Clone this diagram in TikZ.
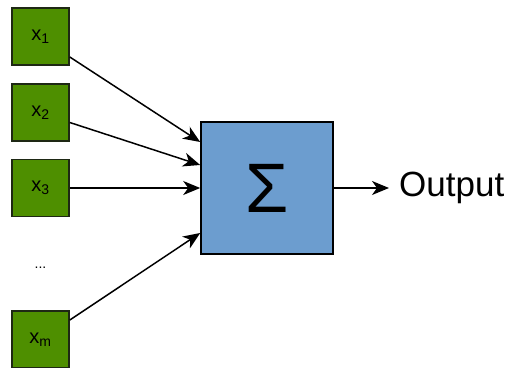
\documentclass[tikz,border=0pt]{standalone}
\usepackage{fontspec}
\setmainfont{Liberation Sans}
\usetikzlibrary{arrows.meta,calc}
\definecolor{ingreen}{RGB}{78,143,0}
\definecolor{inborder}{RGB}{30,40,20}
\definecolor{sumblue}{RGB}{108,157,207}
\tikzset{
  inbox/.style={draw=inborder,line width=1.6pt,fill=ingreen,minimum width=57pt,minimum height=57pt,inner sep=0pt,font=\fontsize{20}{22}\selectfont},
  sumbox/.style={draw=black,line width=1.6pt,fill=sumblue,minimum width=132pt,minimum height=132pt,inner sep=0pt},
  conn/.style={line width=1.5pt,-{Stealth[length=17pt,width=14pt,inset=5pt]}}
}
\begin{document}
\begin{tikzpicture}[x=1pt,y=-1pt]
\useasboundingbox (0,0) rectangle (505,367);
\node[inbox] (g1) at (40.5,36.5) {x\textsubscript{1}};
\node[inbox] (g2) at (40.5,112.5) {x\textsubscript{2}};
\node[inbox] (g3) at (40.5,188) {x\textsubscript{3}};
\node[font=\fontsize{14}{16}\selectfont] (dots) at (40.5,268) {...};
\node[inbox] (gm) at (40.5,339.5) {x\textsubscript{m}};
\node[sumbox] (s) at (267,188) {};
\node[font=\fontsize{70}{70}\selectfont,inner sep=0pt] (sig) at (267,188) {Σ};
\node[anchor=west,font=\fontsize{35}{38}\selectfont,inner sep=0pt] (out) at (399,188) {Output};
\draw[conn] ([yshift=-20.5pt]g1.east) -- ([yshift=46pt]s.west);
\draw[conn] ([yshift=-10pt]g2.east) -- ([yshift=23pt]s.west);
\draw[conn] (g3.east) -- (s.west);
\draw[conn] ([yshift=19.5pt]gm.east) -- ([yshift=-45pt]s.west);
\draw[conn,shorten >=10pt] (s.east) -- (out.west);
\end{tikzpicture}
\end{document}
